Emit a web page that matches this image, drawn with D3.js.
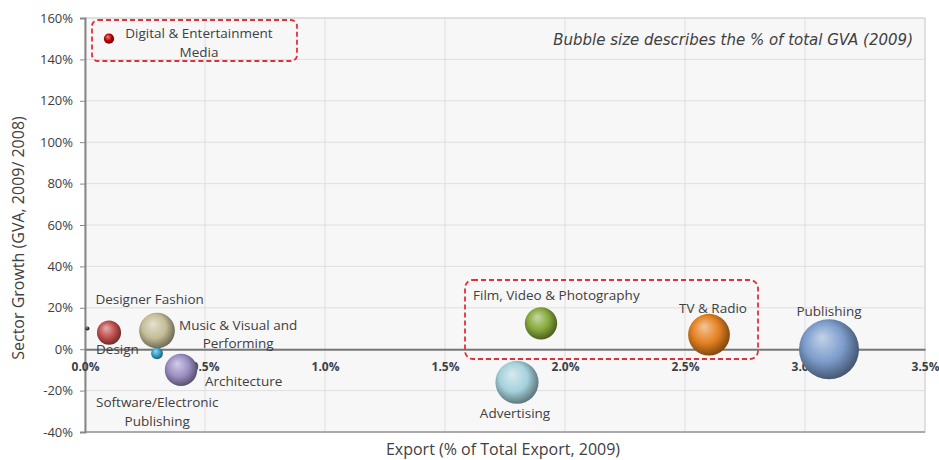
<!DOCTYPE html>
<html>
<head>
<meta charset="utf-8">
<script src="https://cdn.jsdelivr.net/npm/d3@7"></script>
<style>
  body { margin: 0; background: #fff; }
  text { font-family: "Open Sans", "Noto Sans", sans-serif; fill: #404040; }
</style>
</head>
<body>
<script>
// sectors and their values
var sectors = ["Digital & Entertainment Media", "Designer Fashion", "Design", "Music & Visual and Performing",
               "Software/Electronic Publishing", "Architecture", "Film, Video & Photography",
               "Advertising", "TV & Radio", "Publishing"];
var exportShare = [0.10, 0.01, 0.10, 0.30, 0.30, 0.40, 1.90, 1.80, 2.60, 3.10]; // % of total export
var growth = [150, 10, 8, 9, -2, -10, 12.5, -16, 7, 0]; // % GVA 2009/2008
var gva = [0.9, 0.15, 5, 11, 1.2, 9, 9, 16, 15, 31]; // % of total GVA (bubble size)
var colors = ["#c00000", "#333333", "#c0504d", "#c4bd97", "#31a0c8", "#9c8fc4", "#86a83a", "#a5d1dc", "#e3801f", "#7c9ccb"];

var xTicks = [0, 0.5, 1.0, 1.5, 2.0, 2.5, 3.0, 3.5];
var yTicks = [-40, -20, 0, 20, 40, 60, 80, 100, 120, 140, 160];

// label lines and where they sit relative to the bubble (px)
var labels = [
  {lines: ["Digital & Entertainment", "Media"], dx: 90, dy: -1, anchor: "middle"},
  {lines: ["Designer Fashion"], dx: 8, dy: -25, anchor: "start"},
  {lines: ["Design"], dx: -13, dy: 21, anchor: "start"},
  {lines: ["Music & Visual and", "Performing"], dx: 22, dy: -1, anchor: "start"},
  {lines: ["Software/Electronic", "Publishing"], dx: -61, dy: 54, anchor: "start"},
  {lines: ["Architecture"], dx: 24, dy: 16, anchor: "start"},
  {lines: ["Film, Video & Photography"], dx: -68, dy: -23, anchor: "start"},
  {lines: ["Advertising"], dx: -2, dy: 36, anchor: "middle"},
  {lines: ["TV & Radio"], dx: 4, dy: -22, anchor: "middle"},
  {lines: ["Publishing"], dx: 0, dy: -33, anchor: "middle"}
];

var W = 939, H = 460;
var margin = {top: 18, right: 14, bottom: 28, left: 85};
var width = W - margin.left - margin.right, height = H - margin.top - margin.bottom;

var svg = d3.select("body").append("svg").attr("width", W).attr("height", H);

var x = d3.scaleLinear().domain([0, 3.5]).range([0, width]);
var y = d3.scaleLinear().domain([-40, 160]).range([height, 0]);
var r = d3.scaleSqrt().domain([0, 31]).range([0, 30]);

var g = svg.append("g").attr("transform", "translate(" + margin.left + "," + margin.top + ")");

// plot background + grid
g.append("rect").attr("width", width).attr("height", height).attr("fill", "#f7f7f7")
  .attr("stroke", "#c8c8c8");
g.selectAll(".hgrid").data(yTicks).enter().append("line")
  .attr("x1", 0).attr("x2", width)
  .attr("y1", function(d) { return y(d); }).attr("y2", function(d) { return y(d); })
  .attr("stroke", "#dedede");
g.selectAll(".vgrid").data(xTicks).enter().append("line")
  .attr("y1", 0).attr("y2", height)
  .attr("x1", function(d) { return x(d); }).attr("x2", function(d) { return x(d); })
  .attr("stroke", "#dedede");
g.append("line").attr("x1", 0).attr("x2", width).attr("y1", height).attr("y2", height)
  .attr("stroke", "#999").attr("stroke-width", 1.5);

// y axis
var yAxis = g.append("g").call(d3.axisLeft(y).tickValues(yTicks).tickSize(5).tickPadding(7)
  .tickFormat(function(d) { return d + "%"; }));
yAxis.select(".domain").attr("stroke", "#888").attr("stroke-width", 2);
yAxis.selectAll(".tick line").attr("stroke", "#888");
yAxis.selectAll("text").style("font-size", "13px").attr("fill", "#444")
  .style("font-family", "'Open Sans', sans-serif");

// x axis through 0%
var xAxis = g.append("g").attr("transform", "translate(0," + y(0) + ")")
  .call(d3.axisBottom(x).tickValues(xTicks).tickSize(0).tickPadding(13)
  .tickFormat(function(d) { return d.toFixed(1) + "%"; }));
xAxis.select(".domain").attr("stroke", "#777").attr("stroke-width", 2);
xAxis.selectAll("text").style("font-size", "12px").style("font-weight", "bold").attr("fill", "#404040")
  .style("font-family", "'Open Sans', sans-serif");

// gradients for the shiny bubbles
var defs = svg.append("defs");
colors.forEach(function(c, i) {
  var grad = defs.append("radialGradient").attr("id", "grad" + i)
    .attr("cx", "45%").attr("cy", "45%").attr("r", "60%").attr("fx", "38%").attr("fy", "30%");
  grad.append("stop").attr("offset", "0%").attr("stop-color", d3.interpolateRgb(c, "#fff")(0.55));
  grad.append("stop").attr("offset", "55%").attr("stop-color", c);
  grad.append("stop").attr("offset", "100%").attr("stop-color", d3.interpolateRgb(c, "#000")(0.5));
});

// dashed callout boxes
g.append("rect").attr("x", 7).attr("y", 2).attr("width", 205).attr("height", 41).attr("rx", 6)
  .attr("fill", "none").attr("stroke", "#e0303a").attr("stroke-width", 1.8).attr("stroke-dasharray", "5,3");
g.append("rect").attr("x", 380).attr("y", 262).attr("width", 293).attr("height", 79).attr("rx", 8)
  .attr("fill", "none").attr("stroke", "#e0303a").attr("stroke-width", 1.8).attr("stroke-dasharray", "5,3");

var data = sectors.map(function(s, i) {
  return {name: s, x: exportShare[i], y: growth[i], v: gva[i], i: i};
});

g.selectAll(".bubble").data(data).enter().append("circle")
  .attr("class", "bubble")
  .attr("cx", function(d) { return x(d.x); })
  .attr("cy", function(d) { return y(d.y); })
  .attr("r", function(d) { return Math.max(2, r(d.v)); })
  .attr("fill", function(d) { return "url(#grad" + d.i + ")"; });

// bubble labels
data.forEach(function(d) {
  var lb = labels[d.i];
  var t = g.append("text")
    .attr("x", x(d.x) + lb.dx)
    .attr("y", y(d.y) + lb.dy)
    .attr("text-anchor", lb.anchor)
    .style("font-size", "13.5px");
  lb.lines.forEach(function(line, k) {
    var ts = t.append("tspan").text(line).attr("x", x(d.x) + lb.dx).attr("dy", k == 0 ? 0 : "1.4em");
    if (lb.lines.length > 1 && k > 0 && lb.anchor == "start") {
      ts.attr("text-anchor", "middle");
    }
  });
  // centre the follow-on lines under the first line
  if (lb.lines.length > 1 && lb.anchor == "start") {
    var w0 = t.select("tspan").node().getComputedTextLength();
    t.selectAll("tspan").filter(function(_, k) { return k > 0; })
      .attr("x", x(d.x) + lb.dx + w0 / 2);
  }
});

// note
svg.append("text").attr("x", 913).attr("y", 45).attr("text-anchor", "end")
  .style("font-family", "'DejaVu Sans', Verdana, sans-serif").style("font-style", "italic")
  .style("font-size", "15px")
  .text("Bubble size describes the % of total GVA (2009)");

// axis titles
svg.append("text").attr("x", 503).attr("y", 455).attr("text-anchor", "middle")
  .style("font-size", "16px").text("Export (% of Total Export, 2009)");
svg.append("text").attr("transform", "rotate(-90)")
  .attr("x", -238).attr("y", 24).attr("text-anchor", "middle")
  .style("font-size", "16px").text("Sector Growth (GVA, 2009/ 2008)");
</script>
</body>
</html>
